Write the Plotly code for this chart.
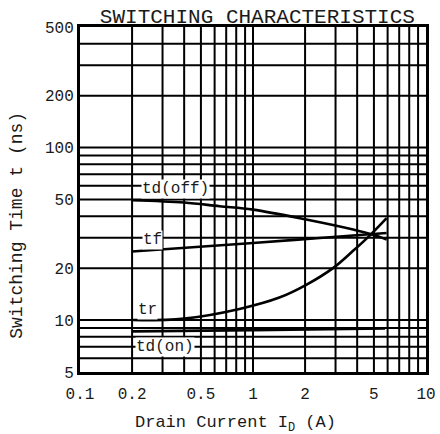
import plotly.graph_objects as go
import math

# Data
td_off_x = [0.2, 0.4, 0.64, 1.0, 2.03, 3.79, 4.9, 5.92]
td_off_y = [49.5, 48.0, 45.7, 43.7, 38.3, 33.5, 31.3, 29.3]

tf_x = [0.2, 1.0, 2.43, 5.92]
tf_y = [25.0, 28.0, 29.9, 32.0]

tr_x = [0.2, 0.4, 0.836, 1.42, 2.03, 2.9, 3.79, 4.74, 5.92]
tr_y = [10.0, 10.2, 11.6, 13.5, 16.0, 20.0, 25.2, 31.0, 39.0]

td_on_x = [0.2, 1.0, 5.8]
td_on_y = [8.6, 8.75, 8.95]

x_ticks = [0.1, 0.2, 0.5, 1, 2, 5, 10]
x_ticktext = ["0.1", "0.2", "0.5", "1", "2", "5", "10"]
x_grid = [0.2, 0.3, 0.4, 0.5, 0.6, 0.7, 0.8, 0.9, 1, 2, 3, 4, 5, 6, 7, 8, 9]

y_ticks = [5, 10, 20, 50, 100, 200, 500]
y_ticktext = ["5", "10", "20", "50", "100", "200", "500"]
y_grid = [6, 7, 8, 9, 10, 20, 30, 40, 50, 60, 70, 80, 90, 100, 200, 300, 400]

x_range = [0.1, 10]
y_range = [5, 500]

labels = ["td(off)", "tf", "tr", "td(on)"]
label_x = [0.356, 0.261, 0.245, 0.311]
label_y = [57.5, 29.3, 11.4, 7.0]

x_title = "Drain Current I<sub>D</sub> (A)"
y_title = "Switching Time t (ns)"
title = "SWITCHING CHARACTERISTICS"

FONT = "Liberation Mono, Courier New, monospace"
INK = "#1a1a1a"

fig = go.Figure()

# grid lines drawn as traces through the axes
gx, gy = [], []
for v in x_grid:
    gx += [v, v, None]
    gy += [y_range[0], y_range[1], None]
for v in y_grid:
    gx += [x_range[0], x_range[1], None]
    gy += [v, v, None]
fig.add_trace(go.Scatter(x=gx, y=gy, mode="lines", line=dict(color="black", width=2),
                         showlegend=False, hoverinfo="skip", cliponaxis=True))

for xs, ys in [(td_off_x, td_off_y), (tf_x, tf_y), (tr_x, tr_y), (td_on_x, td_on_y)]:
    fig.add_trace(go.Scatter(x=xs, y=ys, mode="lines",
                             line=dict(color="black", width=2.6, shape="spline", smoothing=1.0),
                             showlegend=False, hoverinfo="skip"))

for t, lx, ly in zip(labels, label_x, label_y):
    fig.add_annotation(x=math.log10(lx), y=math.log10(ly), text=t, showarrow=False,
                       xref="x", yref="y", bgcolor="white",
                       font=dict(family=FONT, size=16, color=INK), borderpad=0)

# axis titles as paper annotations (positioned like the reference)
fig.add_annotation(text=x_title, xref="paper", yref="paper", x=0.449, y=-0.152,
                   xanchor="center", yanchor="middle", showarrow=False,
                   font=dict(family=FONT, size=17, color=INK))
fig.add_annotation(text=y_title, xref="paper", yref="paper", x=-0.182, y=0.424,
                   xanchor="center", yanchor="middle", showarrow=False, textangle=-90,
                   font=dict(family=FONT, size=18, color=INK))

fig.update_xaxes(type="log", range=[math.log10(x_range[0]), math.log10(x_range[1])],
                 tickvals=x_ticks, ticktext=x_ticktext, showgrid=False,
                 showline=True, linecolor="black", linewidth=3, mirror=True,
                 ticks="", tickfont=dict(family=FONT, size=16, color=INK), ticklabelstandoff=5,
                 zeroline=False, automargin=False)
fig.update_yaxes(type="log", range=[math.log10(y_range[0]), math.log10(y_range[1])],
                 tickvals=y_ticks, ticktext=y_ticktext, showgrid=False,
                 showline=True, linecolor="black", linewidth=3, mirror=True,
                 ticks="", tickfont=dict(family=FONT, size=16, color=INK),
                 zeroline=False, automargin=False)

fig.update_layout(
    width=440, height=434,
    margin=dict(l=80, r=14, t=27, b=62, autoexpand=False),
    paper_bgcolor="white", plot_bgcolor="white",
    hovermode=False,
    title=dict(text=title, x=0.585, xanchor="center", y=0.965, yanchor="middle",
               font=dict(family=FONT, size=21, color=INK), automargin=False),
)

fig.write_html("out.html", config={"displayModeBar": False},
               post_script="document.body.style.margin='0';document.body.style.padding='0';")
